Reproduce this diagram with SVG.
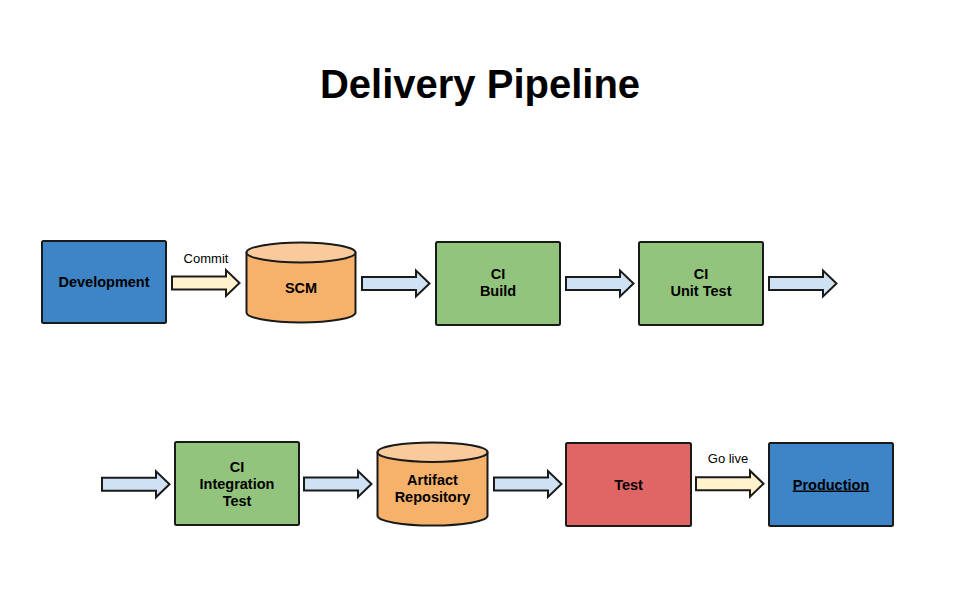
<svg xmlns="http://www.w3.org/2000/svg" xmlns:xlink="http://www.w3.org/1999/xlink" width="960" height="600" viewBox="0 0 960 600">
<defs>
<style>
.box{stroke:#1a1a1a;stroke-width:2;stroke-linejoin:round}
.blue{fill:#3d85c6}.green{fill:#93c47d}.red{fill:#e06666}
.orange{fill:#f6b26b}.orangeTop{fill:#f9cb9c}
.arr{stroke:#1a1a1a;stroke-width:2;stroke-linejoin:miter}
.ablue{fill:#cfe2f3}.ayellow{fill:#fff2cc}
.lbl{font-family:"Liberation Sans",Arial,sans-serif;font-size:14.5px;font-weight:bold;fill:#000;text-anchor:middle}
.elbl{font-family:"Liberation Sans",Arial,sans-serif;font-size:13px;fill:#000;text-anchor:middle}
.title{font-family:"Liberation Sans",Arial,sans-serif;font-size:40px;font-weight:bold;fill:#000;text-anchor:middle}
</style>
<path id="arrow" d="M0,6.5 H54 V0 L67.5,13 L54,26 V19.5 H0 Z"/>
</defs>
<rect width="960" height="600" fill="#fff"/>
<text class="title" x="480" y="98">Delivery Pipeline</text>

<g id="connectors">
<use xlink:href="#arrow" href="#arrow" class="arr ayellow" x="172" y="270"/>
<text class="elbl" x="206" y="262.5">Commit</text>
<use xlink:href="#arrow" href="#arrow" class="arr ablue" x="362" y="270.5"/>
<use xlink:href="#arrow" href="#arrow" class="arr ablue" x="566" y="270.5"/>
<use xlink:href="#arrow" href="#arrow" class="arr ablue" x="769" y="270.5"/>
<use xlink:href="#arrow" href="#arrow" class="arr ablue" x="102" y="471.3"/>
<use xlink:href="#arrow" href="#arrow" class="arr ablue" x="304" y="471"/>
<use xlink:href="#arrow" href="#arrow" class="arr ablue" x="494" y="471"/>
<use xlink:href="#arrow" href="#arrow" class="arr ayellow" x="696" y="470.7"/>
<text class="elbl" x="728" y="462.7">Go live</text>
</g>

<g id="development">
<rect class="box blue" x="42" y="241" width="124" height="82" rx="1.5"/>
<text class="lbl" x="104" y="287">Development</text>
</g>

<g id="scm">
<path class="box orange" d="M246.5,252.5 V312.5 A54.5,10 0 0 0 355.5,312.5 V252.5 Z"/>
<ellipse class="box orangeTop" cx="301" cy="252.5" rx="54.5" ry="10"/>
<text class="lbl" x="301" y="293">SCM</text>
</g>

<g id="ci-build">
<rect class="box green" x="436" y="242" width="124" height="83" rx="1.5"/>
<text class="lbl" x="498" y="278.5">CI</text>
<text class="lbl" x="498" y="295.5">Build</text>
</g>

<g id="ci-unit-test">
<rect class="box green" x="639" y="242" width="124" height="83" rx="1.5"/>
<text class="lbl" x="701" y="278.5">CI</text>
<text class="lbl" x="701" y="295.5">Unit Test</text>
</g>

<g id="ci-integration-test">
<rect class="box green" x="175" y="442" width="124" height="83" rx="1.5"/>
<text class="lbl" x="237" y="471.5">CI</text>
<text class="lbl" x="237" y="488.5">Integration</text>
<text class="lbl" x="237" y="505.5">Test</text>
</g>

<g id="artifact-repository">
<path class="box orange" d="M377.5,452.2 V515.8 A55,9.7 0 0 0 487.5,515.8 V452.2 Z"/>
<ellipse class="box orangeTop" cx="432.5" cy="452.2" rx="55" ry="9.7"/>
<text class="lbl" x="432.5" y="485">Artifact</text>
<text class="lbl" x="432.5" y="502">Repository</text>
</g>

<g id="test">
<rect class="box red" x="566" y="443" width="125" height="83" rx="1.5"/>
<text class="lbl" x="628.5" y="489.5">Test</text>
</g>

<g id="production">
<rect class="box blue" x="769" y="443" width="124" height="83" rx="1.5"/>
<text class="lbl" x="831" y="489.5" text-decoration="underline">Production</text>
</g>
</svg>
